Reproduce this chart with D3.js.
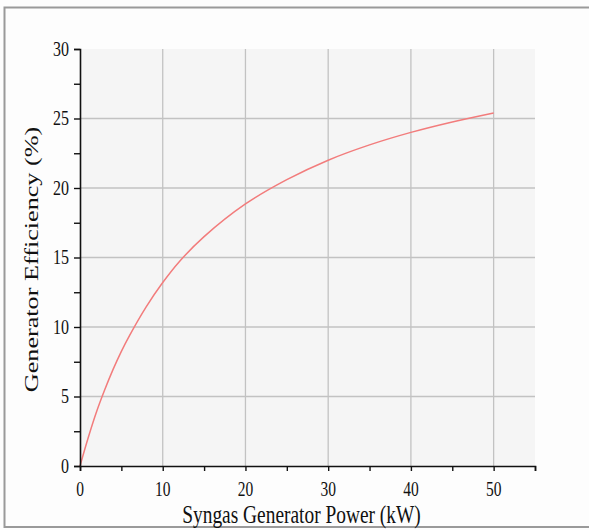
<!DOCTYPE html>
<meta charset="utf-8">
<title>generator efficiency</title>
<style>
body { margin: 0; background: #fff; }
text { font-family: "Liberation Serif", "DejaVu Serif", serif; fill: #111; }
</style>
<script src="https://d3js.org/d3.v7.min.js"></script>
<body>
<script>

// Values
var power = [0, 1, 2, 3, 4, 5, 6, 8, 10, 12, 15, 20, 25, 30, 35, 40, 45, 50];
var efficiency = [0, 2.05, 3.9, 5.5, 6.95, 8.25, 9.4, 11.45, 13.2, 14.7, 16.5, 18.85, 20.6, 22.0, 23.1, 24.0, 24.75, 25.4];
var xTicks = [0, 10, 20, 30, 40, 50];
var yTicks = [0, 5, 10, 15, 20, 25, 30];

var width = 589, height = 530;
var margin = {left: 80, right: 54, top: 49, bottom: 64};
// the source picture is stretched vertically, so is the text
var stretch = 1.3;

var svg = d3.select("body").append("svg")
    .attr("width", width)
    .attr("height", height);

// outer frame
svg.append("rect")
  .attr("x", 0).attr("y", 0)
  .attr("width", width).attr("height", height)
  .attr("fill", "#fdfdfd");
svg.append("rect")
  .attr("x", 4.5).attr("y", 7.5)
  .attr("width", 600).attr("height", 519.5)
  .attr("fill", "none")
  .attr("stroke", "#9a9a9a")
  .attr("stroke-width", 2);

var x = d3.scaleLinear().domain([0, 55]).range([margin.left, width - margin.right]);
var y = d3.scaleLinear().domain([0, 30]).range([height - margin.bottom, margin.top]);

// plot background
svg.append("rect")
  .attr("x", x(0)).attr("y", y(30))
  .attr("width", x(55) - x(0)).attr("height", y(0) - y(30))
  .attr("fill", "#f5f5f5");

// grid
svg.append("g").selectAll("line")
    .data(xTicks.slice(1))
  .enter().append("line")
    .attr("x1", d => x(d)).attr("x2", d => x(d))
    .attr("y1", y(0)).attr("y2", y(30))
    .attr("stroke", "#c2c2c2").attr("stroke-width", 1.3);
svg.append("g").selectAll("line")
    .data(yTicks.slice(1, -1))
  .enter().append("line")
    .attr("x1", x(0)).attr("x2", x(55))
    .attr("y1", d => y(d)).attr("y2", d => y(d))
    .attr("stroke", "#c2c2c2").attr("stroke-width", 1.3);

// curve
var line = d3.line()
    .x((d, i) => x(power[i]))
    .y(d => y(d))
    .curve(d3.curveCatmullRom.alpha(0.5));
svg.append("path")
  .attr("d", line(efficiency))
  .attr("fill", "none")
  .attr("stroke", "#f27c7c")
  .attr("stroke-width", 1.5);

// axes, labels drawn separately below
var xAxis = svg.append("g")
  .attr("transform", "translate(0," + y(0) + ")")
  .call(d3.axisBottom(x).tickValues(d3.range(0, 56, 5)).tickSize(5).tickFormat(""));
var yAxis = svg.append("g")
  .attr("transform", "translate(" + x(0) + ",0)")
  .call(d3.axisLeft(y).tickValues(d3.range(0, 30.1, 2.5)).tickSize(6).tickFormat(""));

[xAxis, yAxis].forEach(function(g) {
  g.select(".domain").attr("stroke", "#111").attr("stroke-width", 1.6);
  g.selectAll(".tick line").attr("stroke", "#111").attr("stroke-width", 1.4);
});

svg.append("g").selectAll("text")
    .data(xTicks)
  .enter().append("text")
    .attr("transform", d => "translate(" + x(d) + "," + (y(0) + 30) + ") scale(1," + stretch + ")")
    .attr("text-anchor", "middle")
    .style("font-size", "15.5px")
    .text(d => d);

svg.append("g").selectAll("text")
    .data(yTicks)
  .enter().append("text")
    .attr("transform", d => "translate(" + (x(0) - 11) + "," + (y(d) + 6.5) + ") scale(1," + stretch + ")")
    .attr("text-anchor", "end")
    .style("font-size", "16px")
    .text(d => d);

// axis titles
svg.append("text")
  .attr("transform", "translate(" + ((x(0) + x(55)) / 2 - 6) + ",523) scale(1," + stretch + ")")
  .attr("text-anchor", "middle")
  .style("font-size", "19.4px")
  .text("Syngas Generator Power (kW)");

svg.append("text")
  .attr("transform", "translate(38," + ((y(0) + y(30)) / 2 + 2) + ") rotate(-90) scale(" + 1.35 + ",1)")
  .attr("text-anchor", "middle")
  .style("font-size", "19.4px")
  .text("Generator Efficiency (%)");

</script>
